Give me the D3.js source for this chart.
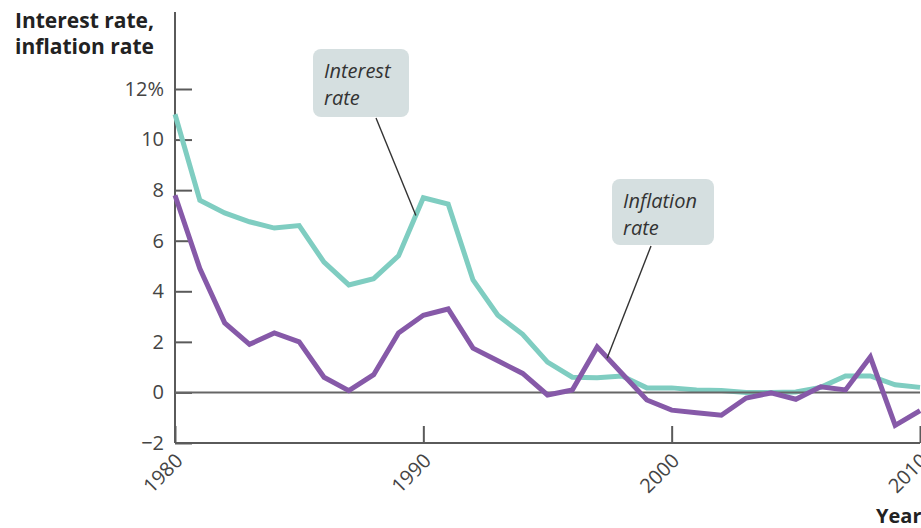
<!DOCTYPE html>
<html>
<head>
<meta charset="utf-8">
<script src="https://cdn.jsdelivr.net/npm/d3@7"></script>
<style>
  html, body { margin: 0; padding: 0; background: #fff; }
  svg { display: block; }
  text { font-family: "Open Sans", "Lato", sans-serif; }
</style>
</head>
<body>
<svg id="chart" width="921" height="528"></svg>
<script>
// Annual rates, 1980–2010 (percent)
const years = d3.range(1980, 2011);
const interestRate = [
  11.0, 7.6, 7.1, 6.75, 6.5, 6.6, 5.15, 4.25, 4.5, 5.4,
  7.7, 7.45, 4.45, 3.05, 2.3, 1.2, 0.6, 0.58, 0.65, 0.18,
  0.18, 0.1, 0.08, 0.0, 0.0, 0.02, 0.2, 0.65, 0.65, 0.3,
  0.2
];
const inflationRate = [
  7.8, 4.9, 2.75, 1.9, 2.35, 2.0, 0.6, 0.07, 0.7, 2.35,
  3.05, 3.3, 1.75, 1.25, 0.75, -0.1, 0.1, 1.8, 0.75, -0.3,
  -0.7, -0.8, -0.9, -0.22, -0.02, -0.27, 0.22, 0.1, 1.4, -1.3,
  -0.72
];
const yTicks = [-2, 0, 2, 4, 6, 8, 10, 12];
const xTicks = [1980, 1990, 2000, 2010];

// Callout annotations: label lines and the point on the series each one points to
const callouts = [
  { lines: ["Interest", "rate"], box: [313, 49, 96, 68], from: [376, 118], year: 1989.7, value: 7.0 },
  { lines: ["Inflation", "rate"], box: [612, 179, 102, 66], from: [651, 246], year: 1997.4, value: 1.35 }
];

const svg = d3.select("#chart");
const x = d3.scaleLinear().domain([1980, 2010]).range([175, 920]);
const y = d3.scaleLinear().domain([-2, 12]).range([443, 89]);

const axisColor = "#5a5a5a";
const labelColor = "#444";

// Y axis with inward ticks
const yAxis = svg.append("g")
  .attr("transform", `translate(${x(1980)},0)`)
  .call(d3.axisLeft(y).tickValues(yTicks).tickSizeInner(-17).tickSizeOuter(0).tickPadding(11)
    .tickFormat(d => d === 12 ? "12%" : d3.format("")(d)));
yAxis.select(".domain").remove();
yAxis.selectAll(".tick line").attr("stroke", axisColor).attr("stroke-width", 2);
yAxis.selectAll(".tick text").attr("fill", labelColor).style("font-size", "20px").style("font-family", "Open Sans");
svg.append("line")
  .attr("x1", x(1980)).attr("x2", x(1980)).attr("y1", 12).attr("y2", y(-2))
  .attr("stroke", axisColor).attr("stroke-width", 2);

// X axis with upward ticks and slanted year labels
const xAxis = svg.append("g")
  .attr("transform", `translate(0,${y(-2)})`)
  .call(d3.axisBottom(x).tickValues(xTicks).tickSizeInner(-17).tickSizeOuter(0).tickFormat(""));
xAxis.select(".domain").remove();
xAxis.selectAll(".tick line").attr("stroke", axisColor).attr("stroke-width", 2);
svg.append("line")
  .attr("x1", x(1980)).attr("x2", x(2010)).attr("y1", y(-2)).attr("y2", y(-2))
  .attr("stroke", axisColor).attr("stroke-width", 2);
svg.append("g").selectAll("text").data(xTicks).join("text")
  .attr("transform", d => `translate(${x(d) + 9},${y(-2) + 19}) rotate(-45)`)
  .attr("text-anchor", "end")
  .attr("fill", labelColor)
  .style("font-size", "20px")
  .text(d => d);

// Line generators
const line = series => d3.line()
  .x((d, i) => x(years[i]))
  .y(d => y(d))(series);

svg.append("path")
  .attr("d", line(interestRate))
  .attr("fill", "none").attr("stroke", "#7fcdc1").attr("stroke-width", 5)
  .attr("stroke-linejoin", "miter");

// Zero line
svg.append("line")
  .attr("x1", x(1980)).attr("x2", x(2010)).attr("y1", y(0)).attr("y2", y(0))
  .attr("stroke", "#666").attr("stroke-width", 2);

svg.append("path")
  .attr("d", line(inflationRate))
  .attr("fill", "none").attr("stroke", "#8659a8").attr("stroke-width", 5)
  .attr("stroke-linejoin", "miter");

// Callouts
callouts.forEach(c => {
  svg.append("line")
    .attr("x1", c.from[0]).attr("y1", c.from[1])
    .attr("x2", x(c.year)).attr("y2", y(c.value))
    .attr("stroke", "#333").attr("stroke-width", 1.4);
  svg.append("rect")
    .attr("x", c.box[0]).attr("y", c.box[1]).attr("width", c.box[2]).attr("height", c.box[3])
    .attr("rx", 8).attr("fill", "#d5dfe0");
  c.lines.forEach((t, i) => {
    svg.append("text")
      .attr("x", c.box[0] + 11).attr("y", c.box[1] + 29 + i * 27)
      .attr("fill", "#333")
      .style("font-size", "20px").style("font-style", "italic")
      .text(t);
  });
});

// Axis titles
const title = svg.append("text")
  .attr("fill", "#222").style("font-size", "21px").style("font-weight", "bold");
title.append("tspan").attr("x", 15).attr("y", 28).text("Interest rate,");
title.append("tspan").attr("x", 15).attr("y", 54).text("inflation rate");

svg.append("text")
  .attr("x", 876).attr("y", 523)
  .attr("fill", "#222").style("font-size", "20px").style("font-weight", "bold")
  .text("Year");
</script>
</body>
</html>
